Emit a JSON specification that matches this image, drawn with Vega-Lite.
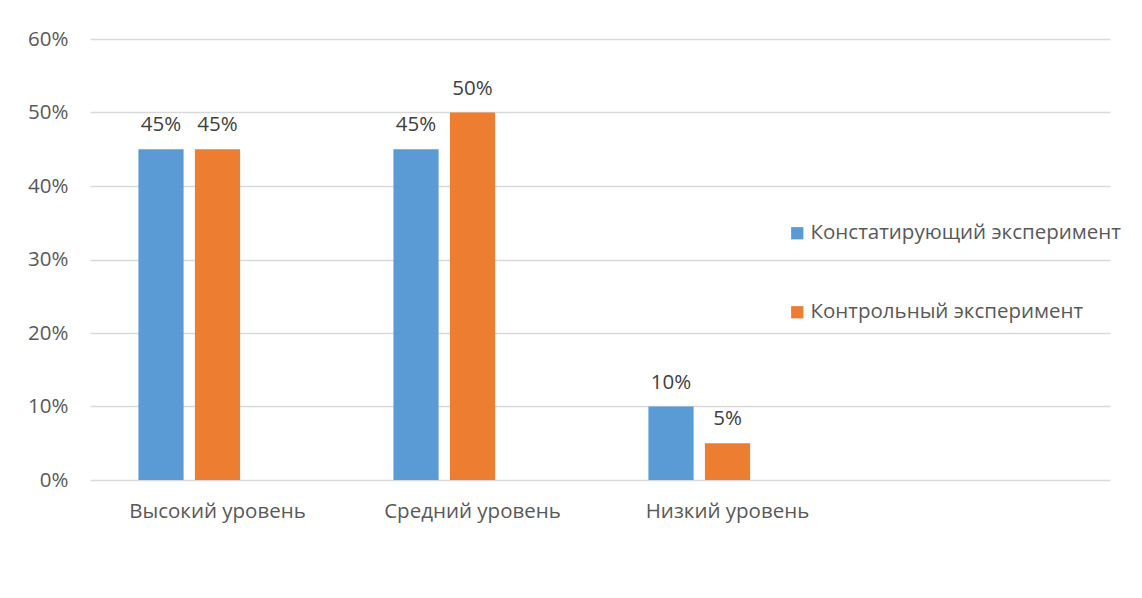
{
  "$schema": "https://vega.github.io/schema/vega-lite/v6.json",
  "width": 1020,
  "height": 441,
  "autosize": "none",
  "padding": {"left": 90, "top": 39, "right": 32, "bottom": 118},
  "background": "white",
  "config": {
    "view": {"stroke": null},
    "font": "Open Sans",
    "axis": {"labelColor": "#595959", "labelFont": "Open Sans", "labelFontSize": 20.5}
  },
  "data": {
    "values": [
      {"level": "Высокий уровень", "series": "Констатирующий эксперимент", "value": 0.45},
      {"level": "Высокий уровень", "series": "Контрольный эксперимент", "value": 0.45},
      {"level": "Средний уровень", "series": "Констатирующий эксперимент", "value": 0.45},
      {"level": "Средний уровень", "series": "Контрольный эксперимент", "value": 0.50},
      {"level": "Низкий уровень", "series": "Констатирующий эксперимент", "value": 0.10},
      {"level": "Низкий уровень", "series": "Контрольный эксперимент", "value": 0.05}
    ]
  },
  "encoding": {
    "x": {
      "field": "level",
      "type": "nominal",
      "sort": null,
      "scale": {"domain": ["Высокий уровень", "Средний уровень", "Низкий уровень", " "], "paddingInner": 0, "paddingOuter": 0},
      "axis": {
        "title": null,
        "labelAngle": 0,
        "domain": false,
        "ticks": false,
        "labelPadding": 21
      }
    },
    "xOffset": {
      "field": "series",
      "type": "nominal",
      "scale": {"domain": ["Констатирующий эксперимент", "Контрольный эксперимент", "_"], "paddingInner": 0.2, "paddingOuter": 0.857}
    },
    "y": {
      "field": "value",
      "type": "quantitative",
      "scale": {"domain": [0, 0.6], "nice": false},
      "axis": {
        "title": null,
        "format": ".0%",
        "values": [0, 0.1, 0.2, 0.3, 0.4, 0.5, 0.6],
        "domain": false,
        "ticks": false,
        "gridColor": "#d9d9d9",
        "gridWidth": 1.3,
        "labelPadding": 22
      }
    }
  },
  "layer": [
    {
      "mark": {"type": "bar"},
      "encoding": {
        "color": {
          "field": "series",
          "type": "nominal",
          "scale": {"domain": ["Констатирующий эксперимент", "Контрольный эксперимент"], "range": ["#5b9bd5", "#ed7d31"]},
          "legend": {
            "title": null,
            "orient": "none",
            "legendX": 697,
            "legendY": 184,
            "symbolType": "square",
            "symbolSize": 150,
            "symbolStrokeWidth": 0,
            "labelFontSize": 20.5,
            "labelFont": "Open Sans",
            "labelColor": "#595959",
            "labelOffset": 3,
            "rowPadding": 58,
            "labelLimit": 400
          }
        }
      }
    },
    {
      "mark": {"type": "text", "baseline": "bottom", "dy": -14, "fontSize": 20.5, "color": "#404040"},
      "encoding": {
        "text": {"field": "value", "type": "quantitative", "format": ".0%"}
      }
    }
  ]
}
